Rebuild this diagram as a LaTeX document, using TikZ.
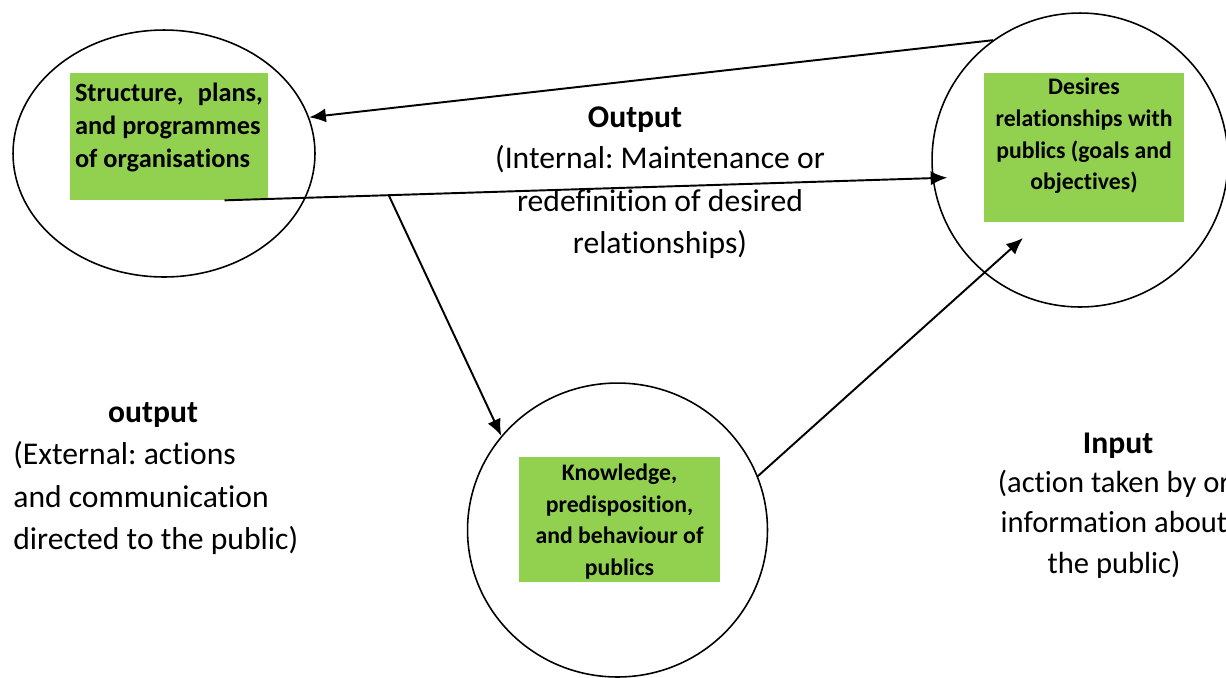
\documentclass[tikz,border=0pt]{standalone}
\usepackage{fontspec}
\setmainfont{Carlito}[Ligatures=CommonOff]
\frenchspacing
\usetikzlibrary{shapes.geometric,arrows.meta}
\definecolor{boxgreen}{HTML}{92D050}
\tikzset{
  ring/.style={draw, ellipse, line width=0.9pt, inner sep=0pt},
  gbox/.style={fill=boxgreen, inner xsep=0.1cm, inner ysep=0pt, font=\bfseries\fontsize{15}{19}\selectfont},
  sbox/.style={gbox, font=\bfseries\fontsize{13.5}{18}\selectfont},
  lbl/.style={inner sep=0pt, font=\fontsize{18}{24}\selectfont},
  head/.style={inner sep=0pt, font=\bfseries\fontsize{18}{24}\selectfont},
  arr/.style={-{Latex[length=9.5pt,width=8pt]}, line width=1.1pt}
}

\begin{document}
\begin{tikzpicture}[x=0.02cm,y=-0.02cm]
\useasboundingbox (0,0) rectangle (1226,677);

% the three circles
\node[ring, minimum width=6.04cm, minimum height=4.94cm] (org) at (164,153.5) {}; % organisation
\node[ring, minimum width=5.92cm, minimum height=5.88cm] (des) at (1080,160) {}; % desired relationships
\node[ring, minimum width=6cm, minimum height=5.88cm] (pub) at (617.5,530) {}; % publics

% green boxes
\node[gbox] (orgBox) at (169,136.5) {\parbox[c][2.54cm][t]{3.76cm}{\vspace{5.5pt}Structure,\hfill plans,\\and programmes\\of organisations}};
\node[sbox] (desBox) at (1084,147.5) {\parbox[c][2.98cm][t]{3.8cm}{\centering\vspace{3pt}Desires\\relationships with\\publics (goals and\\objectives)}};
\node[sbox] (pubBox) at (619.5,519.5) {\parbox[c][2.5cm][t]{3.82cm}{\centering\vspace{4pt}Knowledge,\\predisposition,\\and behaviour of\\publics}};

% arrows
\draw[arr] (des.126) -- (org.14);
\draw[arr, shorten >=-0.3cm] (orgBox.-49) -- coordinate[pos=0.232] (split) (des.187);
\draw[arr] (split) -- (pub.141);
\coordinate (inTip) at (1023,238);
\draw[arr] (pub.21) -- (inTip);

% labels
\node[head] (outTitle) at (635,120) {Output};
\node[lbl, align=center] (outText) at (660,202) {(Internal: Maintenance or\\redefinition of desired\\relationships)};
\node[head] (extTitle) at (153,415) {output};
\node[lbl, align=left, anchor=west] (extText) at (13,498) {(External: actions\\and communication\\directed to the public)};
\node[head] (inTitle) at (1118,446) {Input};
\node[lbl, align=center, font=\fontsize{17.4}{23}\selectfont] (inText) at (1114,524) {(action taken by or\\information about\\the public)};
\end{tikzpicture}
\end{document}
